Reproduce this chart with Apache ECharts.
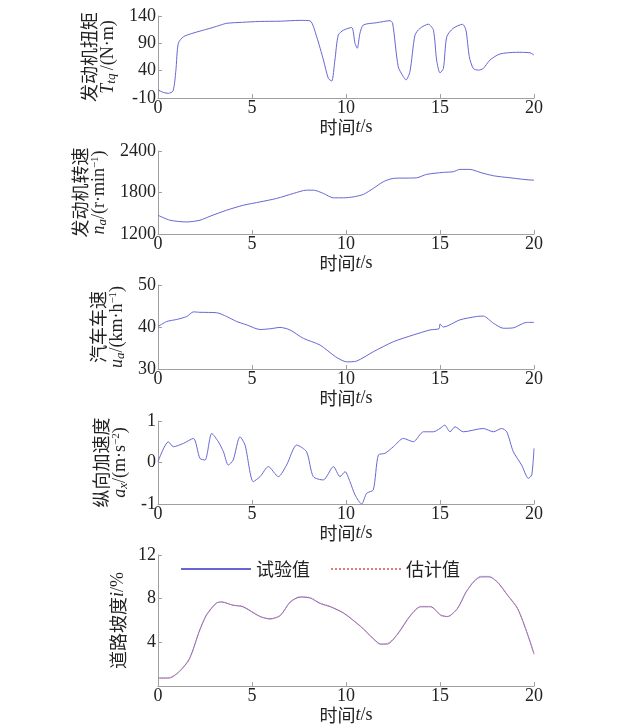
<!DOCTYPE html>
<html><head><meta charset="utf-8">
<script src="https://cdn.jsdelivr.net/npm/echarts@6/dist/echarts.min.js"></script>
<style>html,body{margin:0;padding:0;background:#fff}#c{width:619px;height:725px}</style>
</head><body><div id="c"></div>
<script>
// ---- data ----
const torqueT = [0,0.3,0.55,0.8,0.95,1.08,1.35,1.8,2.3,2.77,3.2,3.65,4.5,5.4,6.5,7.55,8.09,8.44,8.8,9.06,9.24,9.41,9.59,9.86,10.3,10.48,10.6,10.74,10.92,11.63,12.34,12.48,12.78,13.05,13.19,13.4,13.67,13.94,14.38,14.65,14.82,15.0,15.18,15.36,15.7,16.2,16.38,16.56,16.77,17.04,17.3,17.66,18.19,19.08,19.79,20.0];
const torqueV = [4.6,0,-1.4,3,40,90,102,108,113,117.5,122,126.6,128.5,130,130.5,132,131,102,59.5,26,21,59.5,105,114,119,90,81,108,123.5,127.7,131.4,127,47,29,23,38,105,117.5,125,114,59.5,36,44,102,117.5,124.8,114,65.5,44,41,44,59.5,70.5,73.6,72.7,68.6];

const speedT = [0,0.64,1.53,2.23,2.77,3.65,4.54,5.43,6.31,7.2,7.9,8.27,8.8,9.33,9.86,10.4,10.92,11.45,11.98,12.52,13.76,14.29,15.18,15.7,16.06,16.6,17.13,17.84,18.72,19.96,20.0];
const speedV = [1471,1399,1374,1399,1457,1544,1616,1664,1714,1786,1834,1834,1786,1723,1723,1737,1772,1859,1955,2004,2013,2062,2091,2100,2134,2134,2091,2042,2013,1979,1979];

const velT = [0,0.46,1.0,1.53,1.88,2.23,3.12,3.65,4.19,4.72,5.43,6.0,6.49,7.02,7.73,8.62,9.45,10.04,10.57,11.45,12.52,13.58,14.47,14.95,15.0,15.18,16.06,16.95,17.3,17.84,18.37,18.9,19.61,20.0];
const velV = [40.1,41.3,41.8,42.5,43.6,43.5,43.4,42.5,41.3,40.5,39.4,39.6,39.9,39.3,37.3,35.7,32.9,31.7,31.9,34.1,36.5,38.1,39.3,39.6,40.7,40.0,41.7,42.5,42.6,40.9,39.7,39.8,41.1,41.1];

const accT = [0,0.55,0.82,1.35,1.88,2.23,2.5,2.86,3.21,3.48,3.74,4.0,4.36,4.63,5.07,5.43,5.87,6.4,6.84,7.38,7.9,8.26,8.79,9.33,9.68,9.95,10.21,10.48,10.83,11.1,11.45,11.72,12.07,12.52,13.05,13.58,14.12,14.65,15.0,15.25,15.53,15.8,16.24,17.3,17.84,18.28,18.55,18.9,19.34,19.7,19.88,20.0];
const accV = [0.02,0.5,0.38,0.46,0.58,0.1,0.06,0.7,0.5,0.26,-0.06,0.06,0.62,0.42,-0.46,-0.34,-0.1,-0.34,-0.06,0.42,0.26,-0.34,-0.42,-0.1,-0.34,-0.22,-0.46,-0.78,-1.0,-0.74,-0.66,0.18,0.22,0.38,0.58,0.5,0.74,0.74,0.82,0.9,0.74,0.86,0.74,0.82,0.74,0.82,0.74,0.26,-0.06,-0.38,-0.3,0.34];

const gradeT = [0,0.6,1.13,1.67,2.2,2.57,3.1,3.37,3.99,4.52,5.42,5.96,6.5,7.03,7.57,8.1,8.63,9.17,9.88,10.77,11.48,11.84,12.2,12.73,13.44,13.97,14.5,15.04,15.4,15.93,16.38,16.82,17.18,17.62,18.07,18.6,19.13,19.66,20.0];
const gradeMeas = [0.74,0.74,1.33,2.5,5.04,6.5,7.6,7.7,7.4,7.26,6.37,6.16,6.45,7.7,8.15,8.06,7.56,7.26,6.67,5.48,4.3,3.85,3.85,4.74,6.5,7.26,7.26,6.5,6.37,7.1,8.6,9.6,10.0,10.0,9.5,8.3,7.1,4.74,2.96];
const gradeEst  = [0.7,0.78,1.3,2.45,5.0,6.45,7.55,7.72,7.42,7.3,6.4,6.12,6.48,7.65,8.2,8.1,7.6,7.3,6.7,5.45,4.28,3.8,3.9,4.7,6.45,7.3,7.3,6.45,6.35,7.15,8.55,9.65,10.05,10.05,9.45,8.35,7.05,4.7,2.9];

const legendNames = ['试验值','估计值'];
const xTicks = [0,5,10,15,20];

// ---- chart ----
const zip = (a,b)=>a.map((t,i)=>[t,b[i]]);
const BLUE = '#6767d4', RED = '#e57a7a', AX = '#a0a0a0';
const serif = 'Liberation Serif';
const cjk = 'Noto Sans CJK SC';
const rich = {
  cn:{fontFamily:cjk,fontSize:18,color:'#222',lineHeight:19},
  it:{fontFamily:serif,fontStyle:'italic',fontSize:18,color:'#222',lineHeight:19},
  sub:{fontFamily:serif,fontStyle:'italic',fontSize:13,color:'#222',lineHeight:19,verticalAlign:'bottom'},
  n:{fontFamily:serif,fontSize:18,color:'#222',lineHeight:19},
  sup:{fontFamily:serif,fontSize:11,color:'#222',lineHeight:19,verticalAlign:'top'}
};
const grids = [
  {left:158,width:376,top:16,height:82},
  {left:158,width:376,top:151,height:83},
  {left:158,width:376,top:285,height:84},
  {left:158,width:376,top:421,height:83},
  {left:158,width:376,top:555,height:135}
];
const plain = v => String(v);
function xAxis(i){
  return {type:'value',gridIndex:i,min:0,max:20,
    name:'{cn|时间}{it|t}{n|/s}',nameLocation:'middle',nameGap:16,
    nameTextStyle:{rich:rich,verticalAlign:'top'},
    axisLine:{onZero:false,lineStyle:{color:AX,width:1}},
    axisTick:{inside:true,length:4,lineStyle:{color:AX},customValues:xTicks},
    axisLabel:{fontFamily:serif,fontSize:18,color:'#222',margin:1,customValues:xTicks,formatter:plain},
    splitLine:{show:false}};
}
function yAxis(i,min,max,ticks,name,gap){
  return {type:'value',gridIndex:i,min:min,max:max,
    axisLabel:{fontFamily:serif,fontSize:18,color:'#222',margin:2,customValues:ticks,formatter:plain},
    axisTick:{inside:true,length:4,lineStyle:{color:AX},customValues:ticks},
    axisLine:{show:true,onZero:false,lineStyle:{color:AX,width:1}},
    splitLine:{show:false},
    name:name,nameLocation:'middle',nameRotate:90,nameGap:gap,
    nameTextStyle:{rich:rich,align:'center'}};
}
function line(i,data,color,type,name){
  return {type:'line',name:name,xAxisIndex:i,yAxisIndex:i,data:data,symbol:'none',
    smooth:0.25,lineStyle:{color:color,width:1,type:type||'solid'},itemStyle:{color:color},
    animation:false,silent:true};
}
const opt = {
  animation:false,
  backgroundColor:'#fff',
  grid:grids,
  xAxis:[0,1,2,3,4].map(xAxis),
  yAxis:[
    yAxis(0,-10,140,[-10,40,90,140],'{cn|发动机扭矩}\n{it|T}{sub|tq} {n|/(N·m)}',20),
    yAxis(1,1200,2400,[1200,1800,2400],'{cn|发动机转速}\n{it|n}{sub|a}{n|/(r·min}{sup|−1}{n|)}',37),
    yAxis(2,30,50,[30,40,50],'{cn|汽车车速}\n{it|u}{sub|a}{n|/(km·h}{sup|−1}{n|)}',25),
    yAxis(3,-1,1,[-1,0,1],'{cn|纵向加速度}\n{it|a}{sub|x}{n|/(m·s}{sup|−2}{n|)}',24),
    yAxis(4,0,12,[4,8,12],'{cn|道路坡度}{it|i}{n|/%}',13)
  ],
  legend:{show:true,orient:'horizontal',left:180,top:560,padding:0,itemWidth:70,itemHeight:14,itemGap:20,
    itemStyle:{opacity:0},
    data:legendNames,textStyle:{fontFamily:cjk,fontSize:18,color:'#222'}},
  series:[
    line(0,zip(torqueT,torqueV),BLUE),
    line(1,zip(speedT,speedV),BLUE),
    line(2,zip(velT,velV),BLUE),
    line(3,zip(accT,accV),BLUE),
    line(4,zip(gradeT,gradeMeas),BLUE,'solid',legendNames[0]),
    line(4,zip(gradeT,gradeEst),RED,'dotted',legendNames[1])
  ]
};
const chart = echarts.init(document.getElementById('c'),null,{renderer:'canvas'});
chart.setOption(opt);
</script></body></html>
